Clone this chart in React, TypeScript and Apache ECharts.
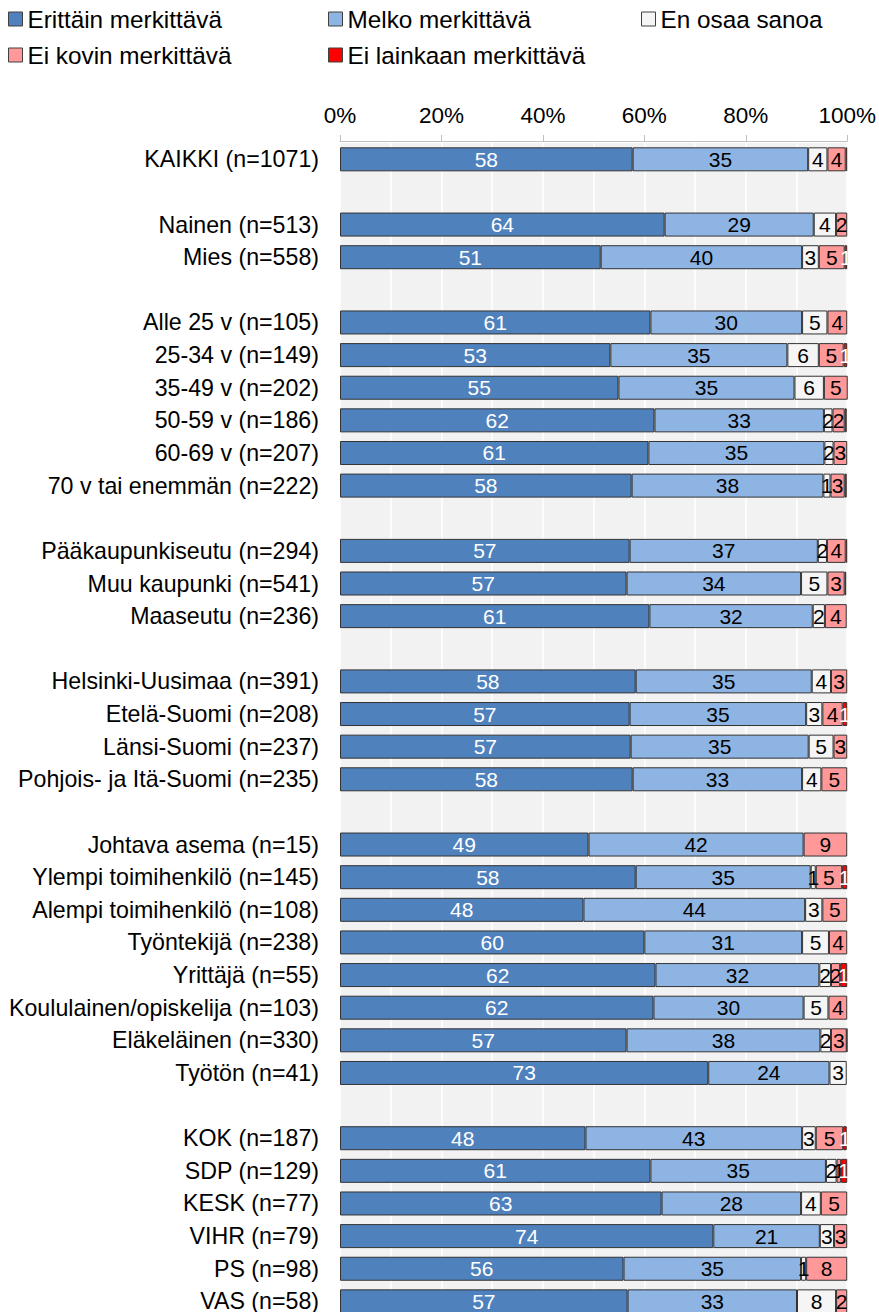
import React, { useEffect, useRef } from "react";
import * as echarts from "echarts";

const categories = [
  "KAIKKI (n=1071)", " ",
  "Nainen (n=513)", "Mies (n=558)", "  ",
  "Alle 25 v (n=105)", "25-34 v (n=149)", "35-49 v (n=202)", "50-59 v (n=186)", "60-69 v (n=207)", "70 v tai enemmän (n=222)", "   ",
  "Pääkaupunkiseutu (n=294)", "Muu kaupunki (n=541)", "Maaseutu (n=236)", "    ",
  "Helsinki-Uusimaa (n=391)", "Etelä-Suomi (n=208)", "Länsi-Suomi (n=237)", "Pohjois- ja Itä-Suomi (n=235)", "     ",
  "Johtava asema (n=15)", "Ylempi toimihenkilö (n=145)", "Alempi toimihenkilö (n=108)", "Työntekijä (n=238)", "Yrittäjä (n=55)", "Koululainen/opiskelija (n=103)", "Eläkeläinen (n=330)", "Työtön (n=41)", "      ",
  "KOK (n=187)", "SDP (n=129)", "KESK (n=77)", "VIHR (n=79)", "PS (n=98)", "VAS (n=58)",
];

const seriesNames = ["Erittäin merkittävä", "Melko merkittävä", "En osaa sanoa", "Ei kovin merkittävä", "Ei lainkaan merkittävä"];

const erittain = [57.7, null, 64.0, 51.4, null, 61.2, 53.3, 54.9, 62.0, 60.8, 57.5, null, 57.1, 56.5, 61.0, null, 58.3, 57.1, 57.3, 57.7, null, 49.0, 58.3, 48.0, 60.0, 62.2, 61.8, 56.5, 72.6, null, 48.4, 61.2, 63.4, 73.6, 55.9, 56.7];
const melko = [34.6, null, 29.4, 39.7, null, 29.9, 34.9, 34.7, 33.4, 34.7, 37.8, null, 37.1, 34.4, 32.2, null, 34.7, 34.8, 35.1, 33.4, null, 42.4, 34.5, 43.7, 31.1, 32.3, 29.6, 38.2, 23.9, null, 42.7, 34.6, 27.5, 21.0, 35.0, 33.4];
const enOsaa = [3.8, null, 4.4, 3.3, null, 5.0, 6.2, 5.8, 1.7, 1.8, 1.4, null, 1.8, 5.2, 2.4, null, 3.8, 3.2, 4.9, 3.8, null, 0, 1.0, 3.4, 5.3, 2.3, 4.9, 2.1, 3.4, null, 2.7, 2.1, 3.9, 2.8, 1.0, 7.7];
const eiKovin = [3.6, null, 2.2, 5.1, null, 3.9, 4.9, 4.7, 2.4, 2.7, 2.8, null, 3.7, 3.4, 4.3, null, 3.2, 4.0, 2.7, 5.1, null, 8.6, 5.2, 4.9, 3.6, 1.8, 3.7, 3.1, 0, null, 5.4, 0.9, 5.2, 2.6, 8.1, 2.2];
const eiLainkaan = [0.3, null, 0, 0.5, null, 0, 0.7, 0, 0.4, 0, 0.4, null, 0.3, 0.3, 0, null, 0, 0.9, 0, 0, null, 0, 1.0, 0, 0, 1.4, 0, 0.1, 0, null, 0.7, 1.2, 0, 0, 0, 0];

const xTicks = [0, 20, 40, 60, 80, 100];

const colors = ["#4f81bd", "#8eb4e3", "#f5f5f5", "#ff9999", "#ff0000"];
const labelColors = ["#ffffff", "#000000", "#000000", "#000000", "#ffffff"];

const FONT = "'Liberation Sans', Arial, sans-serif";

export default function App() {
  const ref = useRef<HTMLDivElement>(null);
  useEffect(() => {
    if (!ref.current) return;
    const chart = echarts.init(ref.current, null, { renderer: "svg" });
    const allValues = [erittain, melko, enOsaa, eiKovin, eiLainkaan];
    const legendPos = [
      { left: 8, top: 7 },
      { left: 328, top: 7 },
      { left: 641, top: 7 },
      { left: 8, top: 43 },
      { left: 328, top: 43 },
    ];
    chart.setOption({
      animation: false,
      textStyle: { fontFamily: FONT },
      legend: seriesNames.map((n, i) => ({
        data: [n],
        left: legendPos[i].left,
        top: legendPos[i].top,
        padding: 0,
        itemWidth: 14,
        itemHeight: 14,
        icon: "rect",
        itemStyle: { borderColor: "#404040", borderWidth: 1 },
        textStyle: { fontSize: 24.3, color: "#000", fontFamily: FONT },
        selectedMode: false,
      })),
      grid: {
        left: 340,
        top: 143,
        width: 507.5,
        height: 36 * 32.63,
        show: true,
        backgroundColor: "#f2f2f2",
        borderWidth: 0,
        containLabel: false,
      },
      xAxis: {
        type: "value",
        position: "top",
        min: xTicks[0],
        max: xTicks[xTicks.length - 1],
        interval: 20,
        offset: 2,
        axisLabel: { formatter: "{value}%", fontSize: 22.5, color: "#000", margin: 14, fontFamily: FONT },
        axisLine: { show: true, lineStyle: { color: "#bfbfbf", width: 1 } },
        axisTick: { show: true, length: 6, lineStyle: { color: "#bfbfbf" } },
        splitLine: { show: true, lineStyle: { color: "#ffffff", width: 1.5 } },
        minorTick: { show: false, splitNumber: 2 },
        minorSplitLine: { show: true, lineStyle: { color: "#ffffff", width: 1.5 } },
      },
      yAxis: {
        type: "category",
        inverse: true,
        data: categories,
        axisLine: { show: false },
        axisTick: { show: false },
        splitLine: { show: false },
        axisLabel: { fontSize: 23.2, color: "#000", margin: 21, fontFamily: FONT },
      },
      series: seriesNames.map((n, i) => ({
        name: n,
        type: "bar",
        stack: "total",
        barWidth: 24,
        data: allValues[i].map((v) => (v === 0 ? null : v)),
        itemStyle: { color: colors[i], borderColor: "#333333", borderWidth: 1 },
        label: {
          show: true,
          position: "inside",
          fontSize: 21,
          color: labelColors[i],
          fontFamily: FONT,
          formatter: (p: any) => {
            const v = Math.round(Number(p.value));
            return v > 0 ? String(v) : "";
          },
        },
      })),
    });
    return () => chart.dispose();
  }, []);
  return (
    <div style={{ position: "fixed", left: 0, top: 0, width: 879, height: 1312, overflow: "hidden", background: "#fff" }}>
      <div ref={ref} style={{ width: 879, height: 1330 }} />
    </div>
  );
}
